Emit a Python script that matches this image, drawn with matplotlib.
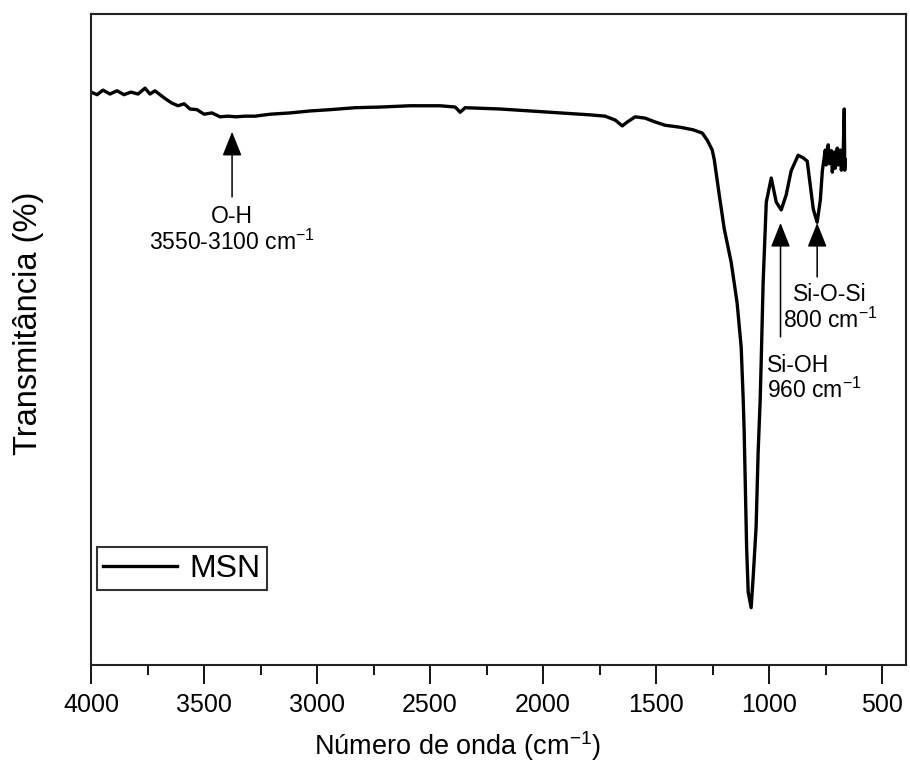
import numpy as np
import matplotlib
matplotlib.use('Agg')
import matplotlib.pyplot as plt
from matplotlib import font_manager

plt.rcParams['font.family'] = ['Liberation Sans', 'DejaVu Sans']
plt.rcParams['mathtext.default'] = 'regular'

# espectro FTIR da amostra MSN
numero_onda = [4000, 3973, 3947, 3916, 3885, 3854, 3823, 3792, 3761, 3739,
               3717, 3695, 3668, 3642, 3615, 3588, 3562, 3531, 3500, 3465,
               3429, 3394, 3358, 3319, 3274, 3208, 3119, 3031, 2942, 2832,
               2721, 2588, 2456, 2389, 2367, 2345, 2190, 2057, 1925, 1792,
               1726, 1681, 1650, 1628, 1593, 1549, 1504, 1460, 1394, 1336,
               1296, 1274, 1252, 1243, 1221, 1199, 1168, 1142, 1124, 1115,
               1111, 1106, 1100, 1093, 1080, 1071, 1058, 1049, 1040, 1035,
               1027, 1013, 991, 969, 947, 925, 903, 872, 850, 832,
               805, 788, 774, 765, 752, 748, 739, 734, 725, 721,
               712, 708, 699, 695, 686, 681, 673, 668, 666, 664]
transmitancia = [88.0, 87.6, 88.3, 87.7, 88.2, 87.6, 88.0, 87.7, 88.6, 87.7,
                 88.2, 87.6, 86.9, 86.3, 85.9, 86.2, 85.4, 85.3, 84.6, 84.8,
                 84.2, 84.3, 84.2, 84.3, 84.3, 84.6, 84.8, 85.1, 85.3, 85.6,
                 85.7, 85.9, 85.9, 85.7, 84.9, 85.6, 85.4, 85.1, 84.8, 84.5,
                 84.3, 83.7, 82.8, 83.4, 84.2, 84.0, 83.4, 82.9, 82.6, 82.2,
                 81.7, 80.6, 79.1, 77.6, 72.2, 67.0, 61.8, 55.6, 48.8, 40.7,
                 36.1, 28.0, 18.1, 11.2, 8.8, 13.5, 21.2, 32.7, 40.7, 47.3,
                 58.7, 71.1, 74.8, 71.1, 69.9, 72.2, 75.9, 78.3, 77.9, 77.4,
                 70.0, 68.0, 71.4, 75.9, 79.1, 76.8, 79.9, 77.0, 79.0, 75.7,
                 78.8, 76.3, 79.4, 76.8, 79.1, 76.0, 78.3, 85.4, 76.0, 77.6]

# os textos dos eixos parecem comprimidos na horizontal: usa a versao Narrow se houver
nomes = {f.name for f in font_manager.fontManager.ttflist}
if 'Liberation Sans Narrow' in nomes:
    fonte_eixo = 'Liberation Sans Narrow'
    tam_tick, tam_xlab, tam_ylab = 21, 23, 28
else:
    fonte_eixo = 'Liberation Sans'
    tam_tick, tam_xlab, tam_ylab = 18, 19.5, 23.5

fig = plt.figure(figsize=(9.1, 7.71), dpi=100)
ax = fig.add_axes([0.1, 0.1375, 0.8956, 0.8444])

ax.plot(numero_onda, transmitancia, color='black', lw=2.4, label='MSN')

ax.set_xlim(4000, 395)
ax.set_ylim(0, 100)
ax.set_xticks(np.arange(4000, 400, -500))
ax.set_xticks(np.arange(3750, 400, -500), minor=True)
ax.set_yticks([])
ax.tick_params(axis='x', which='major', direction='out', length=14, width=1.3,
               labelsize=tam_tick, pad=6)
ax.tick_params(axis='x', which='minor', direction='out', length=7, width=1.3)
for lab in ax.get_xticklabels():
    lab.set_family(fonte_eixo)
for s in ax.spines.values():
    s.set_linewidth(1.5)
    s.set_color('#222222')

ax.set_xlabel('Número de onda (cm$^{-1}$)', fontsize=tam_xlab, family=fonte_eixo)
ax.xaxis.set_label_coords(0.45, -0.098)
ax.set_ylabel('Transmitância (%)', fontsize=tam_ylab, family=fonte_eixo)
ax.yaxis.set_label_coords(-0.058, 0.525)

# setas das bandas
seta = dict(arrowstyle='-|>,head_length=0.75,head_width=0.3', color='black',
            lw=1.1, mutation_scale=20, shrinkA=0, shrinkB=0)
ax.annotate('', xy=(3376, 81.9), xytext=(3376, 71.9), arrowprops=seta)
ax.text(3376, 70.6, 'O-H\n3550-3100 cm$^{-1}$', ha='center', va='top',
        fontsize=16.5, linespacing=1.05)

ax.annotate('', xy=(950, 67.9), xytext=(950, 50.4), arrowprops=seta)
ax.text(1009, 47.8, 'Si-OH\n960 cm$^{-1}$', ha='left', va='top',
        fontsize=16.5, linespacing=1.05)

ax.annotate('', xy=(788, 67.9), xytext=(788, 59.6), arrowprops=seta)
ax.text(730, 58.6, 'Si-O-Si\n800 cm$^{-1}$', ha='center', va='top',
        fontsize=16.5, linespacing=1.05)

leg = ax.legend(loc='lower left', bbox_to_anchor=(0.007, 0.115),
                borderaxespad=0, fontsize=23, fancybox=False,
                handlelength=2.3, handletextpad=0.4, borderpad=0.2)
leg.get_frame().set_edgecolor('black')
leg.get_frame().set_linewidth(1.5)

fig.savefig('out.png', dpi=100)
